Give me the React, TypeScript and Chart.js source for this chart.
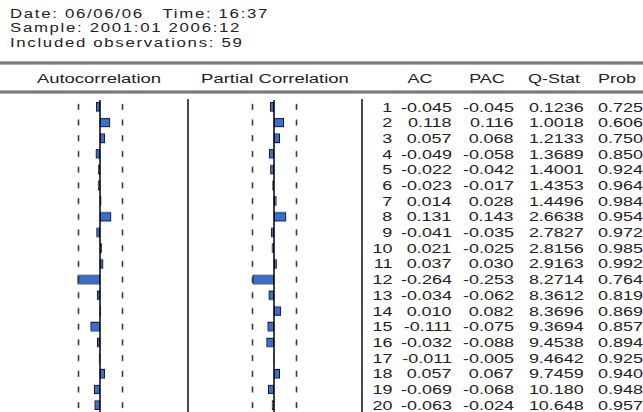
import React, { useEffect, useRef } from "react";
import { Chart, registerables } from "chart.js";

Chart.register(...registerables);

// ---------- data ----------
const infoLines = [
  "Date: 06/06/06   Time: 16:37",
  "Sample: 2001:01 2006:12",
  "Included observations: 59",
];
const nObs = 59;
const lags = [1, 2, 3, 4, 5, 6, 7, 8, 9, 10, 11, 12, 13, 14, 15, 16, 17, 18, 19, 20];
const acValues = [
  -0.045, 0.118, 0.057, -0.049, -0.022, -0.023, 0.014, 0.131, -0.041, 0.021,
  0.037, -0.264, -0.034, 0.01, -0.111, -0.032, -0.011, 0.057, -0.069, -0.063,
];
const pacValues = [
  -0.045, 0.116, 0.068, -0.058, -0.042, -0.017, 0.028, 0.143, -0.035, -0.025,
  0.03, -0.253, -0.062, 0.082, -0.075, -0.088, -0.005, 0.067, -0.068, -0.024,
];
const qStat = [
  "0.1236", "1.0018", "1.2133", "1.3689", "1.4001", "1.4353", "1.4496", "2.6638", "2.7827", "2.8156",
  "2.9163", "8.2714", "8.3612", "8.3696", "9.3694", "9.4538", "9.4642", "9.7459", "10.180", "10.648",
];
const probValues = [
  "0.725", "0.606", "0.750", "0.850", "0.924", "0.964", "0.984", "0.954", "0.972", "0.985",
  "0.992", "0.764", "0.819", "0.869", "0.857", "0.894", "0.925", "0.940", "0.948", "0.957",
];
const panelTitles = ["Autocorrelation", "Partial Correlation"];
const tableHeaders = ["AC", "PAC", "Q-Stat", "Prob"];

// ---------- layout ----------
const W = 643;
const H = 412;
const PX_PER_UNIT = 84.5;
const ROW_TOP = 99.2;
const ROW_H = 15.68;
const FONT = "'Liberation Sans', Arial, sans-serif";

const fmt = (v: number) => v.toFixed(3);

const guidePlugin = {
  id: "guides",
  afterDatasetsDraw(chart: any) {
    const { ctx, chartArea, scales } = chart;
    const xs = scales.x;
    const ys = scales.y;
    const band = 2 / Math.sqrt(nObs);
    ctx.save();
    ctx.strokeStyle = "#3a3a3a";
    ctx.lineWidth = 1.6;
    const n = chart.data.labels.length;
    for (let i = 0; i < n; i++) {
      const y = ys.getPixelForValue(i);
      for (const b of [-band, band]) {
        const x = Math.round(xs.getPixelForValue(b)) + 0.5;
        ctx.beginPath();
        ctx.moveTo(x, y - 3);
        ctx.lineTo(x, y + 3);
        ctx.stroke();
      }
    }
    const x0 = xs.getPixelForValue(0);
    ctx.strokeStyle = "#000";
    ctx.lineWidth = 1.5;
    ctx.beginPath();
    ctx.moveTo(x0, chartArea.top + 1);
    ctx.lineTo(x0, chartArea.bottom);
    ctx.stroke();
    ctx.restore();
  },
};

function CorrPanel({
  values,
  left,
  width,
  zeroOffset,
}: {
  values: number[];
  left: number;
  width: number;
  zeroOffset: number;
}) {
  const ref = useRef<HTMLCanvasElement | null>(null);
  const height = ROW_H * lags.length;
  useEffect(() => {
    if (!ref.current) return;
    const chart = new Chart(ref.current, {
      type: "bar",
      data: {
        labels: lags.map(String),
        datasets: [
          {
            data: values,
            backgroundColor: "#3570d4",
            borderColor: "#111",
            borderWidth: 1,
            borderSkipped: false,
            barThickness: 9,
          } as any,
        ],
      },
      options: {
        indexAxis: "y",
        animation: false,
        responsive: false,
        maintainAspectRatio: false,
        events: [],
        layout: { padding: 0 },
        plugins: { legend: { display: false }, tooltip: { enabled: false } },
        scales: {
          x: {
            type: "linear",
            display: false,
            min: -zeroOffset / PX_PER_UNIT,
            max: (width - zeroOffset) / PX_PER_UNIT,
          },
          y: { type: "category", display: false, offset: true },
        },
      } as any,
      plugins: [guidePlugin],
    });
    return () => chart.destroy();
  }, [values, width, zeroOffset]);
  return (
    <canvas
      ref={ref}
      width={width}
      height={height}
      style={{ position: "absolute", left, top: ROW_TOP, width, height }}
    />
  );
}

function T({
  children,
  x,
  top,
  align = "left",
  size = 13,
  sx = 1.38,
  ls = 0,
  color = "#222",
}: any) {
  const style: any = {
    position: "absolute",
    top,
    fontFamily: FONT,
    fontSize: size,
    lineHeight: `${size}px`,
    letterSpacing: ls,
    whiteSpace: "pre",
    color,
    transform: `scaleX(${sx})`,
  };
  if (align === "left") {
    style.left = x;
    style.transformOrigin = "left center";
  } else if (align === "right") {
    style.right = W - x;
    style.transformOrigin = "right center";
  } else {
    style.left = x - 150;
    style.width = 300;
    style.textAlign = "center";
    style.transformOrigin = "center center";
  }
  return <div style={style}>{children}</div>;
}

function Rule({ top }: { top: number }) {
  return (
    <div
      style={{
        position: "absolute",
        left: 0,
        top,
        width: W,
        height: 4,
        background: "linear-gradient(#c4c4c4, #6a6a6a 45%, #8a8a8a 75%, #d0d0d0)",
      }}
    />
  );
}

export default function App() {
  const rowTop = (i: number) => ROW_TOP + ROW_H * (i + 0.5) + 4.65 - 11;
  return (
    <div
      style={{
        position: "fixed",
        left: 0,
        top: 0,
        width: W,
        height: H,
        overflow: "hidden",
        background: "#fff",
      }}
    >
      {infoLines.map((s, i) => (
        <T key={s} x={10} top={8.1 + i * 14.2} size={12} sx={1.4} ls={1.2}>
          {s}
        </T>
      ))}
      <Rule top={61} />
      <T x={99} top={71.5} align="center" sx={1.42}>{panelTitles[0]}</T>
      <T x={275} top={71.5} align="center" sx={1.42}>{panelTitles[1]}</T>
      <T x={420} top={71.5} align="center">{tableHeaders[0]}</T>
      <T x={487} top={71.5} align="center">{tableHeaders[1]}</T>
      <T x={554} top={71.5} align="center">{tableHeaders[2]}</T>
      <T x={598} top={71.5}>{tableHeaders[3]}</T>
      <Rule top={90} />
      <div style={{ position: "absolute", left: 187, top: 99, width: 2, height: H, background: "#4a4a4a" }} />
      <div style={{ position: "absolute", left: 361, top: 99, width: 2, height: H, background: "#4a4a4a" }} />
      <CorrPanel values={acValues} left={10} width={178} zeroOffset={90} />
      <CorrPanel values={pacValues} left={190} width={170} zeroOffset={84} />
      {lags.map((lag, i) => (
        <React.Fragment key={lag}>
          <T x={392} top={rowTop(i)} align="right">{String(lag)}</T>
          <T x={452} top={rowTop(i)} align="right">{fmt(acValues[i])}</T>
          <T x={514} top={rowTop(i)} align="right">{fmt(pacValues[i])}</T>
          <T x={584} top={rowTop(i)} align="right">{qStat[i]}</T>
          <T x={598} top={rowTop(i)}>{probValues[i]}</T>
        </React.Fragment>
      ))}
    </div>
  );
}
